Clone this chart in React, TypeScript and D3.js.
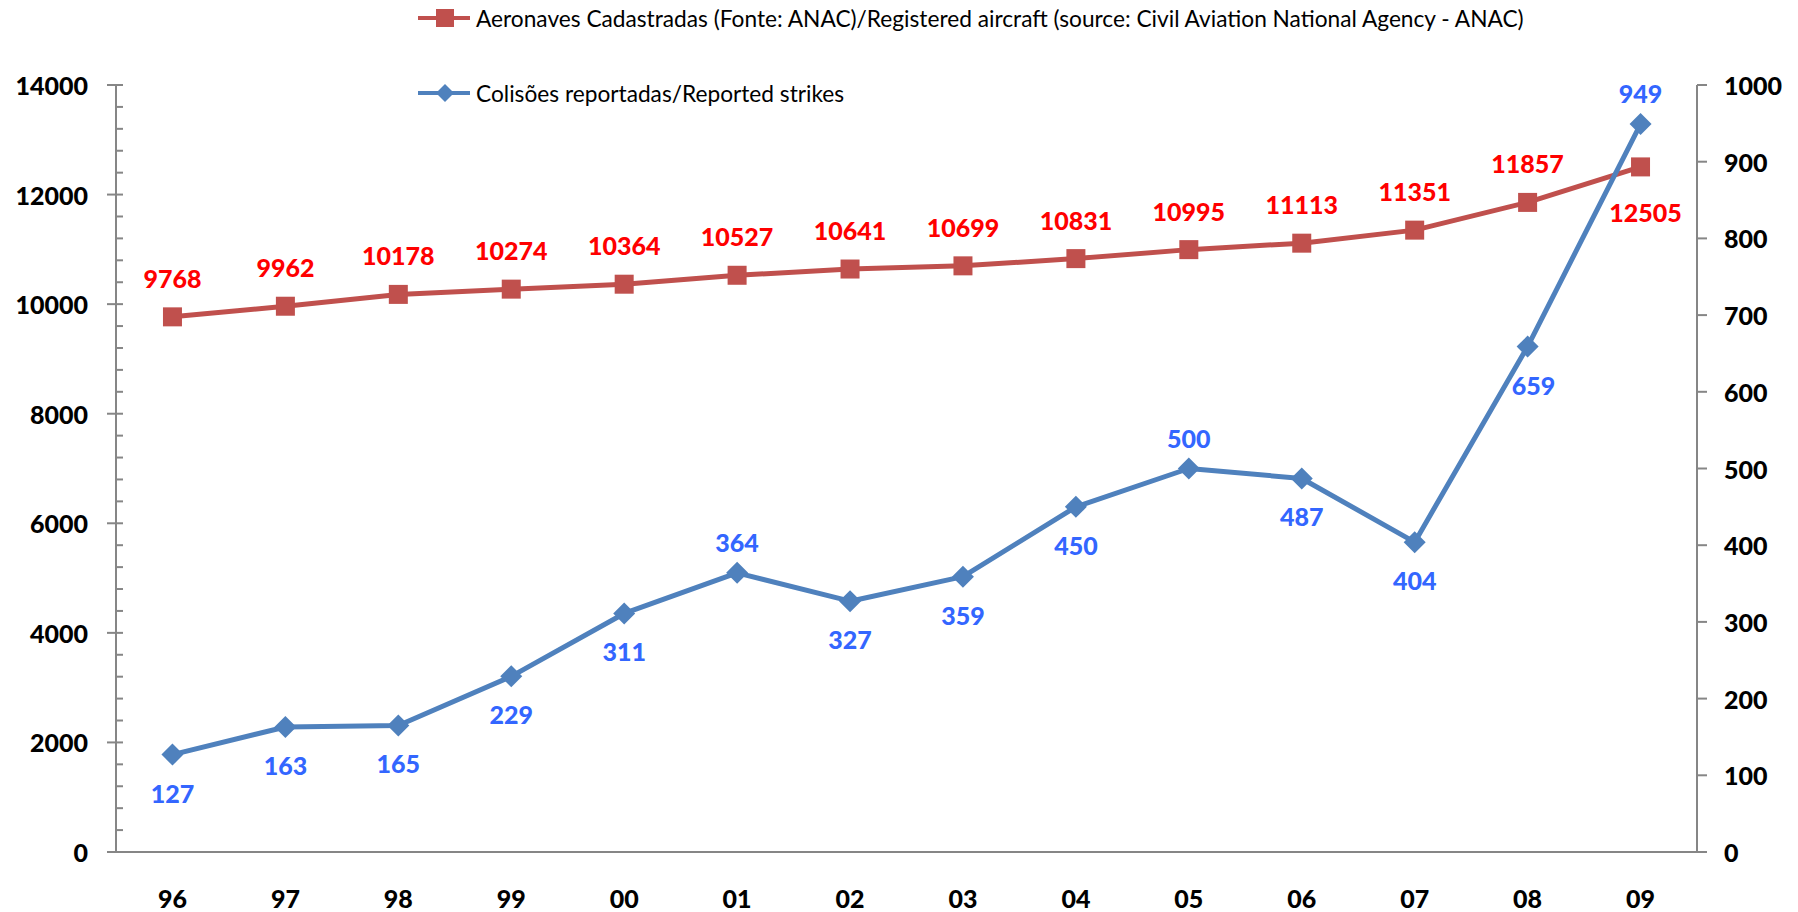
import React from "react";
import * as d3 from "d3";

const years = ["96","97","98","99","00","01","02","03","04","05","06","07","08","09"];
const aircraft = [9768, 9962, 10178, 10274, 10364, 10527, 10641, 10699, 10831, 10995, 11113, 11351, 11857, 12505];
const strikes = [127, 163, 165, 229, 311, 364, 327, 359, 450, 500, 487, 404, 659, 949];
// label placement: 1 = above, -1 = below
const aircraftLabelPos = [1,1,1,1,1,1,1,1,1,1,1,1,1,-1];
const strikesLabelPos = [-1,-1,-1,-1,-1,1,-1,-1,-1,1,-1,-1,-1,1];
const leftTicks = [0, 2000, 4000, 6000, 8000, 10000, 12000, 14000];
const rightTicks = [0, 100, 200, 300, 400, 500, 600, 700, 800, 900, 1000];
const legendRed = "Aeronaves Cadastradas (Fonte: ANAC)/Registered aircraft (source: Civil Aviation National Agency - ANAC)";
const legendBlue = "Colisões reportadas/Reported strikes";

const W = 1798, H = 912;
const plotLeft = 116, plotRight = 1697, plotTop = 85, plotBottom = 852;
const RED = "#C0504D", BLUE = "#4F81BD";
const RED_TXT = "#FF0000", BLUE_TXT = "#3366FF";
const AXIS = "#868686";
const FONT = "Lato, 'Open Sans', sans-serif";

export default function App() {
  const x = d3.scaleBand<string>().domain(years).range([plotLeft, plotRight]);
  const cx = (i: number) => (x(years[i]) as number) + x.bandwidth() / 2;
  const yL = d3.scaleLinear().domain([0, 14000]).range([plotBottom, plotTop]);
  const yR = d3.scaleLinear().domain([0, 1000]).range([plotBottom, plotTop]);
  const minorL = d3.range(0, 14001, 400).filter((v) => v % 2000 !== 0);

  const redLine = d3.line<number>().x((_, i) => cx(i)).y((d) => yL(d))(aircraft) as string;
  const blueLine = d3.line<number>().x((_, i) => cx(i)).y((d) => yR(d))(strikes) as string;

  const diamond = (px: number, py: number, r: number) =>
    `M${px},${py - r}L${px + r},${py}L${px},${py + r}L${px - r},${py}Z`;

  return (
    <svg width={W} height={H} style={{ position: "absolute", left: 0, top: 0, background: "#fff" }} fontFamily={FONT}>
      {/* legend */}
      <g>
        <line x1={418} x2={470} y1={18} y2={18} stroke={RED} strokeWidth={4} />
        <rect x={436} y={9} width={18} height={18} fill={RED} />
        <text x={476} y={18} dominantBaseline="central" fontSize={22.7} fill="#000">{legendRed}</text>
        <line x1={418} x2={470} y1={93} y2={93} stroke={BLUE} strokeWidth={4} />
        <path d={diamond(445, 93, 9)} fill={BLUE} />
        <text x={476} y={93} dominantBaseline="central" fontSize={22.7} fill="#000">{legendBlue}</text>
      </g>

      {/* left axis */}
      <line x1={plotLeft} x2={plotLeft} y1={plotTop} y2={plotBottom} stroke={AXIS} strokeWidth={2} />
      {leftTicks.map((t) => (
        <g key={"l" + t}>
          <line x1={plotLeft - 9} x2={plotLeft + 7} y1={yL(t)} y2={yL(t)} stroke={AXIS} strokeWidth={2} />
          <text x={88} y={yL(t)} textAnchor="end" dominantBaseline="central" fontSize={25} fontWeight={900} fill="#000">{t}</text>
        </g>
      ))}
      {minorL.map((t) => (
        <line key={"m" + t} x1={plotLeft} x2={plotLeft + 7} y1={yL(t)} y2={yL(t)} stroke={AXIS} strokeWidth={2} />
      ))}

      {/* right axis */}
      <line x1={plotRight} x2={plotRight} y1={plotTop} y2={plotBottom} stroke={AXIS} strokeWidth={2} />
      {rightTicks.map((t) => (
        <g key={"r" + t}>
          <line x1={plotRight} x2={plotRight + 10} y1={yR(t)} y2={yR(t)} stroke={AXIS} strokeWidth={2} />
          <text x={1724} y={yR(t)} textAnchor="start" dominantBaseline="central" fontSize={25} fontWeight={900} fill="#000">{t}</text>
        </g>
      ))}

      {/* x axis */}
      <line x1={plotLeft} x2={plotRight} y1={plotBottom} y2={plotBottom} stroke={AXIS} strokeWidth={2} />
      {years.map((yr, i) => (
        <text key={"x" + yr} x={cx(i)} y={898} textAnchor="middle" dominantBaseline="central" fontSize={25} fontWeight={900} fill="#000">{yr}</text>
      ))}

      {/* red series */}
      <path d={redLine} fill="none" stroke={RED} strokeWidth={5} strokeLinejoin="round" />
      {aircraft.map((v, i) => (
        <rect key={"rm" + i} x={cx(i) - 9.5} y={yL(v) - 9.5} width={19} height={19} fill={RED} />
      ))}
      {aircraft.map((v, i) => (
        <text key={"rl" + i} x={cx(i) + (i === 13 ? 5 : 0)} y={yL(v) - 39 * aircraftLabelPos[i] + (aircraftLabelPos[i] < 0 ? 6 : 0)}
          textAnchor="middle" dominantBaseline="central" fontSize={25} fontWeight={900} fill={RED_TXT}>{v}</text>
      ))}

      {/* blue series */}
      <path d={blueLine} fill="none" stroke={BLUE} strokeWidth={5} strokeLinejoin="round" />
      {strikes.map((v, i) => (
        <path key={"bm" + i} d={diamond(cx(i), yR(v), 11)} fill={BLUE} />
      ))}
      {strikes.map((v, i) => (
        <text key={"bl" + i} x={cx(i) + (i === 12 ? 6 : 0)} y={yR(v) + (strikesLabelPos[i] > 0 ? -31 : 38)}
          textAnchor="middle" dominantBaseline="central" fontSize={25} fontWeight={900} fill={BLUE_TXT}>{v}</text>
      ))}
    </svg>
  );
}
